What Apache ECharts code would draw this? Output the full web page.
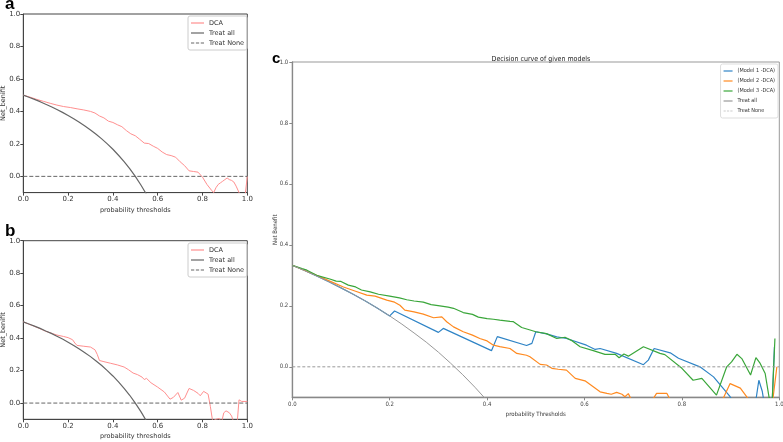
<!DOCTYPE html>
<html>
<head>
    <meta charset="utf-8">
    <script src="https://cdn.jsdelivr.net/npm/echarts@6/dist/echarts.min.js"></script>
    <style>
        body { margin: 0; background: #fff; }
        .panel { position: absolute; }
    </style>
</head>
<body>

<div class="panel" id="chartC" style="left:0;top:0;width:783px;height:442px;"></div>
<div class="panel" id="chartA" style="left:0;top:0;width:260px;height:222px;"></div>
<div class="panel" id="chartB" style="left:0;top:222px;width:260px;height:220px;"></div>

<script type="text/javascript">

    // tick labels
    var xTicks = [0, 0.2, 0.4, 0.6, 0.8, 1.0];
    var yTicks = [0, 0.2, 0.4, 0.6, 0.8, 1.0];

    // panel a / b : treat all (prevalence 0.5)
    var allT = [0, 0.025, 0.05, 0.075, 0.1, 0.125, 0.15, 0.175, 0.2, 0.225, 0.25, 0.275, 0.3, 0.325, 0.35,
        0.375, 0.4, 0.425, 0.45, 0.475, 0.5, 0.525, 0.55];
    var allNB = [0.5, 0.487, 0.474, 0.46, 0.444, 0.429, 0.412, 0.394, 0.375, 0.355, 0.333, 0.31, 0.286, 0.259, 0.231,
        0.2, 0.167, 0.13, 0.091, 0.048, 0.0, -0.053, -0.111];

    // panel a : DCA
    var aT = [0, 0.03, 0.06, 0.09, 0.12, 0.15, 0.18, 0.21, 0.24, 0.27, 0.3, 0.32, 0.34, 0.36, 0.38, 0.4, 0.42, 0.44,
        0.46, 0.48, 0.5, 0.52, 0.54, 0.56, 0.58, 0.6, 0.62, 0.64, 0.66, 0.68, 0.7, 0.72, 0.74, 0.76, 0.78, 0.8,
        0.82, 0.84, 0.85, 0.86, 0.87, 0.88, 0.89, 0.9, 0.91, 0.92, 0.93, 0.94, 0.95, 0.96, 0.97, 0.99, 1.0];
    var aNB = [0.5, 0.488, 0.474, 0.462, 0.45, 0.439, 0.43, 0.424, 0.416, 0.409, 0.4, 0.39, 0.372, 0.36, 0.34, 0.332, 0.318, 0.306,
        0.282, 0.262, 0.25, 0.228, 0.205, 0.202, 0.186, 0.172, 0.15, 0.134, 0.128, 0.118, 0.09, 0.066, 0.034, 0.03, 0.026, -0.005,
        -0.05, -0.085, -0.1, -0.07, -0.05, -0.04, -0.03, -0.02, -0.01, -0.02, -0.025, -0.035, -0.06, -0.09, -0.12, -0.12, 0.0];

    // panel b : DCA
    var bT = [0, 0.04, 0.08, 0.1, 0.13, 0.15, 0.18, 0.2, 0.22, 0.23, 0.24, 0.27, 0.3, 0.32, 0.33, 0.34, 0.36, 0.39, 0.42,
        0.45, 0.47, 0.49, 0.51, 0.53, 0.54, 0.55, 0.57, 0.6, 0.63, 0.655, 0.67, 0.69, 0.705, 0.72, 0.74, 0.76, 0.78,
        0.79, 0.805, 0.825, 0.835, 0.845, 0.86, 0.875, 0.885, 0.895, 0.905, 0.92, 0.93, 0.94, 0.955, 0.963, 0.975, 1.0];
    var bNB = [0.5, 0.478, 0.455, 0.442, 0.428, 0.419, 0.41, 0.403, 0.39, 0.37, 0.355, 0.35, 0.345, 0.328, 0.3, 0.262, 0.255, 0.245, 0.235,
        0.222, 0.205, 0.185, 0.175, 0.16, 0.145, 0.152, 0.125, 0.098, 0.068, 0.024, 0.035, 0.065, 0.018, 0.03, 0.09, 0.078, 0.06,
        0.045, 0.072, 0.055, -0.02, -0.11, -0.1, -0.095, -0.12, -0.06, -0.048, -0.06, -0.08, -0.12, -0.12, 0.02, 0.01, 0.01];

    // panel c : treat all (prevalence 1/3)
    var cAllT = [0, 0.025, 0.05, 0.075, 0.1, 0.125, 0.15, 0.175, 0.2, 0.225, 0.25, 0.275, 0.3, 0.325, 0.35, 0.375, 0.4];
    var cAllNB = [0.333, 0.316, 0.298, 0.279, 0.259, 0.238, 0.216, 0.192, 0.167, 0.14, 0.111, 0.081, 0.048, 0.012, -0.026, -0.067, -0.111];

    // panel c : model 1
    var m1T = [0, 0.025, 0.05, 0.075, 0.1, 0.125, 0.15, 0.175, 0.2, 0.21, 0.3, 0.31, 0.409, 0.421, 0.481, 0.492, 0.5, 0.522,
        0.543, 0.563, 0.604, 0.622, 0.632, 0.666, 0.721, 0.731, 0.743, 0.776, 0.793, 0.837, 0.865, 0.899, 0.91, 0.95, 0.958,
        0.965, 0.97, 0.985, 0.99];
    var m1NB = [0.333, 0.316, 0.298, 0.279, 0.259, 0.238, 0.216, 0.192, 0.167, 0.183, 0.113, 0.126, 0.053, 0.099, 0.07, 0.077, 0.115, 0.108,
        0.098, 0.093, 0.071, 0.057, 0.06, 0.044, 0.007, 0.022, 0.06, 0.046, 0.028, 0.0, -0.033, -0.098, -0.13, -0.13, -0.044,
        -0.08, -0.13, -0.13, 0.066];

    // panel c : model 2
    var m2T = [0, 0.05, 0.077, 0.105, 0.13, 0.153, 0.17, 0.194, 0.21, 0.221, 0.231, 0.25, 0.269, 0.29, 0.307, 0.317, 0.331,
        0.351, 0.37, 0.385, 0.4, 0.413, 0.426, 0.447, 0.461, 0.481, 0.488, 0.509, 0.522, 0.533, 0.546, 0.563, 0.581, 0.601,
        0.632, 0.646, 0.655, 0.666, 0.677, 0.683, 0.69, 0.7, 0.735, 0.748, 0.769, 0.78, 0.88, 0.899, 0.92, 0.934, 0.945, 0.985, 0.995];
    var m2NB = [0.333, 0.3, 0.281, 0.262, 0.248, 0.235, 0.232, 0.219, 0.212, 0.202, 0.186, 0.18, 0.173, 0.161, 0.164, 0.148, 0.131,
        0.115, 0.104, 0.093, 0.085, 0.071, 0.066, 0.06, 0.044, 0.038, 0.033, 0.008, 0.006, -0.005, -0.008, -0.011, -0.038, -0.046,
        -0.082, -0.087, -0.09, -0.084, -0.09, -0.098, -0.088, -0.12, -0.12, -0.087, -0.087, -0.12, -0.12, -0.055, -0.07, -0.1, -0.13, -0.13, 0.0];

    // panel c : model 3
    var m3T = [0, 0.02, 0.03, 0.05, 0.077, 0.09, 0.1, 0.115, 0.13, 0.142, 0.16, 0.177, 0.2, 0.22, 0.235, 0.25, 0.269, 0.285,
        0.303, 0.32, 0.331, 0.351, 0.37, 0.382, 0.4, 0.413, 0.426, 0.447, 0.454, 0.471, 0.49, 0.5, 0.522, 0.543, 0.56, 0.575,
        0.591, 0.618, 0.642, 0.663, 0.671, 0.681, 0.69, 0.721, 0.755, 0.765, 0.8, 0.823, 0.841, 0.871, 0.892, 0.902, 0.913,
        0.923, 0.941, 0.952, 0.96, 0.971, 0.979, 0.985, 0.991];
    var m3NB = [0.333, 0.322, 0.317, 0.3, 0.288, 0.281, 0.28, 0.268, 0.262, 0.252, 0.246, 0.238, 0.232, 0.226, 0.22, 0.216, 0.212, 0.204,
        0.2, 0.196, 0.192, 0.178, 0.172, 0.163, 0.158, 0.156, 0.153, 0.149, 0.148, 0.129, 0.12, 0.115, 0.109, 0.093, 0.097, 0.085,
        0.066, 0.053, 0.041, 0.041, 0.03, 0.042, 0.035, 0.066, 0.044, 0.04, -0.005, -0.044, -0.038, -0.093, 0.0, 0.016, 0.041,
        0.027, -0.027, 0.03, 0.013, -0.022, -0.1, -0.13, 0.093];

    function zip(xs, ys) {
        return xs.map(function (x, i) { return [x, ys[i]]; });
    }
    function fmt(v) { return v.toFixed(1); }

    // legend icons: plain line and dashed line
    var solidIcon = 'rect';
    var dashIcon = 'path://M0,0h4v1h-4z M6,0h4v1h-4z M12,0h4v1h-4z';

    var leftFont = 'DejaVu Sans';
    var narrowFont = "'Liberation Sans Narrow', 'DejaVu Sans Condensed', sans-serif";

    function smallPanel(id, letter, gridTop, legendTop, dca) {
        var chart = echarts.init(document.getElementById(id));
        chart.setOption({
            animation: false,
            textStyle: { fontFamily: leftFont },
            title: {
                text: letter, left: 0, top: gridTop - 23,
                textStyle: { fontSize: 17, fontWeight: 'bold', color: '#000', fontFamily: 'Liberation Sans' }
            },
            legend: {
                orient: 'vertical', left: 188, top: legendTop,
                padding: [3, 3, 3, 3], itemGap: 2, itemWidth: 13, itemHeight: 1.2,
                borderColor: '#ccc', borderWidth: 1, borderRadius: 2,
                textStyle: { fontSize: 6.5, color: '#333', lineHeight: 8 },
                data: [
                    { name: 'DCA', icon: solidIcon },
                    { name: 'Treat all', icon: solidIcon },
                    { name: 'Treat None', icon: dashIcon }
                ]
            },
            grid: {
                left: 23.3, top: gridTop, width: 224, height: 178.6,
                outerBoundsMode: 'none',
                show: true, borderColor: '#444', borderWidth: 1
            },
            xAxis: {
                type: 'value', min: 0, max: 1, interval: 0.2,
                name: 'probability thresholds', nameLocation: 'middle', nameGap: 14, nameMoveOverlap: false,
                nameTextStyle: { fontSize: 6.5, color: '#333' },
                axisLine: { show: true, onZero: false, lineStyle: { color: '#444' } },
                axisTick: { show: true, length: 3, lineStyle: { color: '#444' } },
                axisLabel: { fontSize: 7, margin: 3, color: '#333', formatter: fmt },
                splitLine: { show: false }
            },
            yAxis: {
                type: 'value', min: -0.1, max: 1,
                name: 'Net_benifit', nameLocation: 'middle', nameGap: 16, nameMoveOverlap: false,
                nameTextStyle: { fontSize: 6.5, color: '#333' },
                axisLine: { show: true, onZero: false, lineStyle: { color: '#444' } },
                axisTick: { show: true, length: 3, customValues: yTicks, lineStyle: { color: '#444' } },
                axisLabel: { fontSize: 7, margin: 3, color: '#333', customValues: yTicks, formatter: fmt },
                splitLine: { show: false }
            },
            series: [
                {
                    name: 'DCA', type: 'line', symbol: 'none', data: dca,
                    lineStyle: { color: '#ff8f8f', width: 1 }, itemStyle: { color: '#ff8f8f' }
                },
                {
                    name: 'Treat all', type: 'line', symbol: 'none',
                    data: zip(allT, allNB),
                    lineStyle: { color: '#666', width: 1.2 }, itemStyle: { color: '#666' }
                },
                {
                    name: 'Treat None', type: 'line', symbol: 'none', data: [[0, 0], [1, 0]],
                    lineStyle: { color: '#666', width: 1, type: [4, 2] }, itemStyle: { color: '#666' }
                }
            ]
        });
        return chart;
    }

    // panel c
    var chartC = echarts.init(document.getElementById('chartC'));
    chartC.setOption({
        animation: false,
        textStyle: { fontFamily: narrowFont },
        title: [
            {
                text: 'c', left: 267, top: 46,
                textStyle: { fontSize: 15, fontWeight: 'bold', color: '#000', fontFamily: 'Liberation Sans' }
            },
            {
                text: 'Decision curve of given models', left: 536, textAlign: 'center', top: 51,
                textStyle: { fontSize: 7, fontWeight: 'normal', color: '#222', fontFamily: narrowFont }
            }
        ],
        legend: {
            orient: 'vertical', right: 5, top: 64,
            padding: [3, 3, 3, 3], itemGap: 2, itemWidth: 9, itemHeight: 1.2,
            borderColor: '#ddd', borderWidth: 1, borderRadius: 2,
            textStyle: { fontSize: 5.5, color: '#333', fontFamily: narrowFont, lineHeight: 8 },
            data: [
                { name: '(Model 1 -DCA)', icon: solidIcon },
                { name: '(Model 2 -DCA)', icon: solidIcon },
                { name: '(Model 3 -DCA)', icon: solidIcon },
                { name: 'Treat all', icon: solidIcon },
                { name: 'Treat None', icon: dashIcon }
            ]
        },
        grid: {
            left: 292.3, top: 62, width: 487, height: 335.3,
            outerBoundsMode: 'none',
            show: true, borderColor: '#999', borderWidth: 1
        },
        xAxis: {
            type: 'value', min: 0, max: 1, interval: 0.2,
            name: 'probability Thresholds', nameLocation: 'middle', nameGap: 14, nameMoveOverlap: false,
            nameTextStyle: { fontSize: 6, color: '#333' },
            axisLine: { show: true, onZero: false, lineStyle: { color: '#888', width: 1.3 } },
            axisTick: { show: true, length: 3, lineStyle: { color: '#888' } },
            axisLabel: { fontSize: 6, margin: 4, color: '#444', formatter: fmt },
            splitLine: { show: false }
        },
        yAxis: {
            type: 'value', min: -0.1, max: 1,
            name: 'Net Benefit', nameLocation: 'middle', nameGap: 14, nameMoveOverlap: false,
            nameTextStyle: { fontSize: 6, color: '#333' },
            axisLine: { show: true, onZero: false, lineStyle: { color: '#888', width: 1.3 } },
            axisTick: { show: true, length: 3, customValues: yTicks, lineStyle: { color: '#888' } },
            axisLabel: { fontSize: 6, margin: 4, color: '#444', customValues: yTicks, formatter: fmt },
            splitLine: { show: false }
        },
        series: [
            {
                name: '(Model 1 -DCA)', type: 'line', symbol: 'none', data: zip(m1T, m1NB),
                lineStyle: { color: '#2f84c6', width: 1.2 }, itemStyle: { color: '#2f84c6' }
            },
            {
                name: '(Model 2 -DCA)', type: 'line', symbol: 'none', data: zip(m2T, m2NB),
                lineStyle: { color: '#ff8a20', width: 1.2 }, itemStyle: { color: '#ff8a20' }
            },
            {
                name: '(Model 3 -DCA)', type: 'line', symbol: 'none', data: zip(m3T, m3NB),
                lineStyle: { color: '#3aa63a', width: 1.2 }, itemStyle: { color: '#3aa63a' }
            },
            {
                name: 'Treat all', type: 'line', symbol: 'none',
                data: zip(cAllT, cAllNB),
                lineStyle: { color: '#999', width: 1 }, itemStyle: { color: '#999' }
            },
            {
                name: 'Treat None', type: 'line', symbol: 'none', data: [[0, 0], [1, 0]],
                lineStyle: { color: '#999', width: 1, type: [3, 2] }, itemStyle: { color: '#999' }
            }
        ]
    });

    smallPanel('chartA', 'a', 14, 16, zip(aT, aNB));
    smallPanel('chartB', 'b', 18.7, 21, zip(bT, bNB));
</script>

</body>
</html>
